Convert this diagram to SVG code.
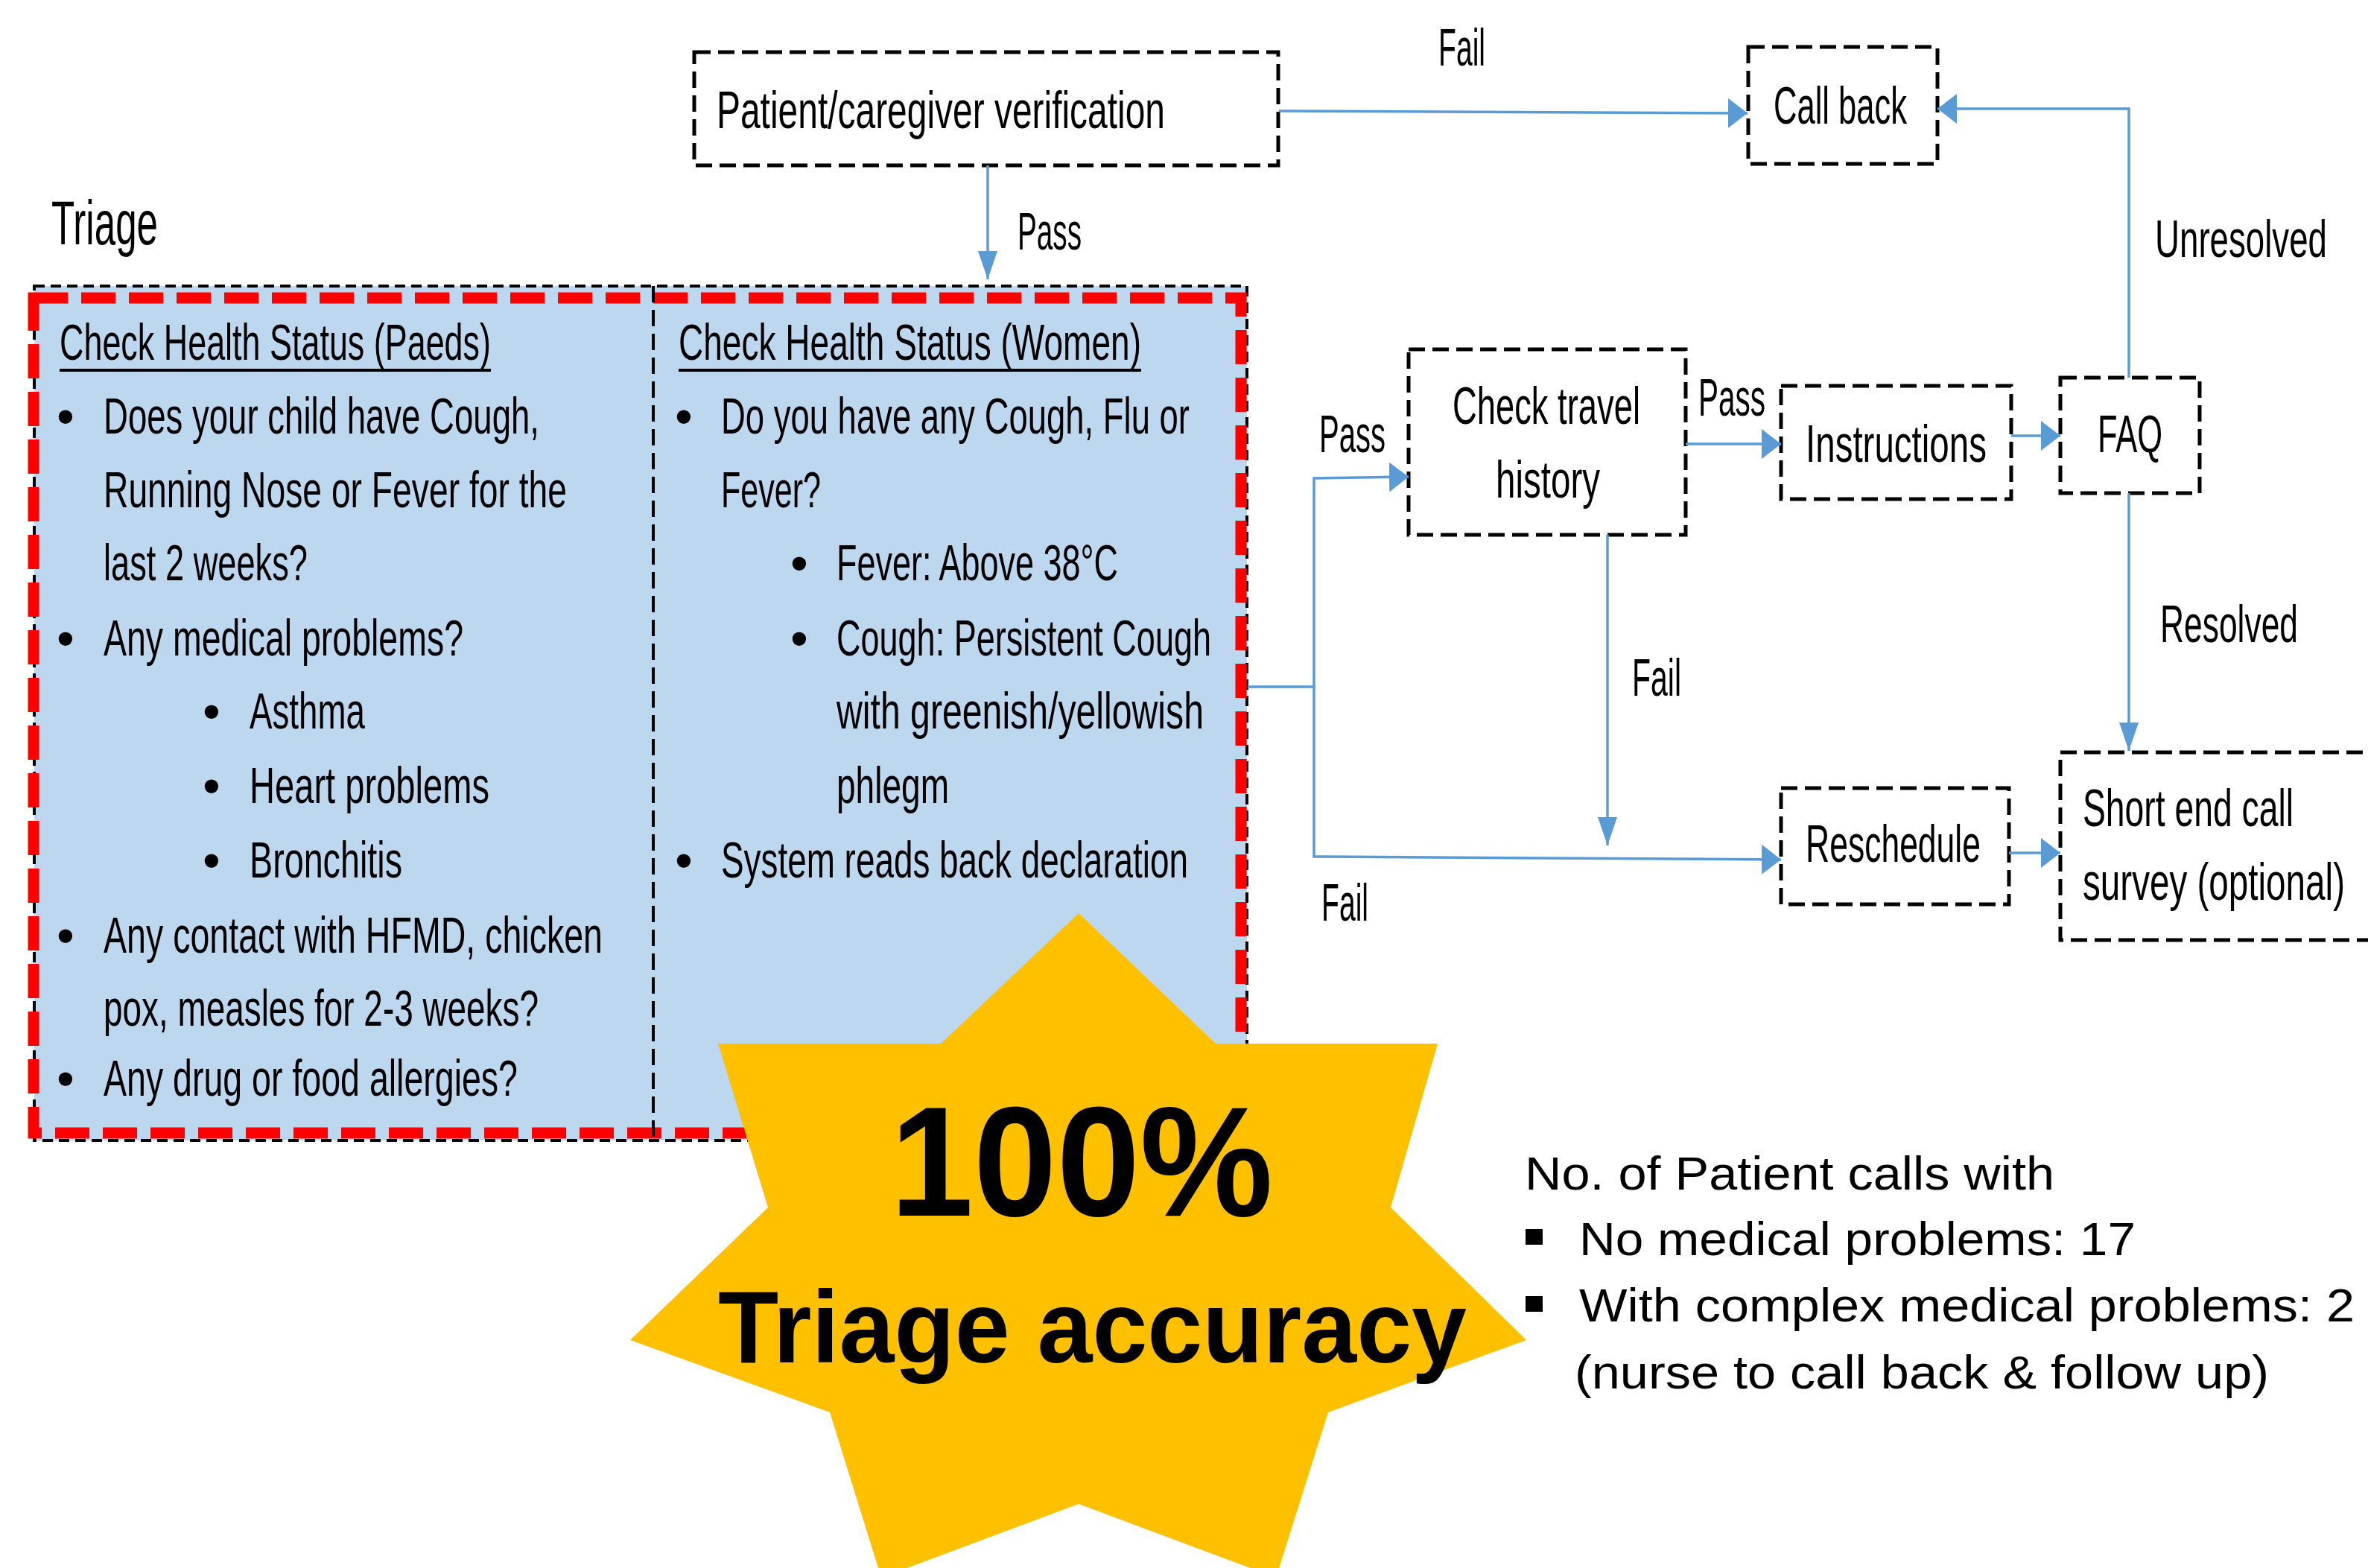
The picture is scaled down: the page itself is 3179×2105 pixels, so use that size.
<svg xmlns="http://www.w3.org/2000/svg" width="3179" height="2105" viewBox="0 0 3179 2105">
<style>
.t{font-family:"Liberation Sans",Arial,sans-serif;fill:#000}
.f{font-size:70px}
.p{font-size:68px}
.s{font-size:63px}
.box{fill:#fff;stroke:#000;stroke-width:5;stroke-dasharray:22 10}
.c{fill:none;stroke:#5B9BD5;stroke-width:3.5}
</style>
<defs>
<marker id="ah" markerUnits="userSpaceOnUse" markerWidth="28" markerHeight="42" refX="26" refY="20" orient="auto"><path d="M0,0 L26,20 L0,40 z" fill="#5B9BD5"/></marker>
<marker id="av" markerUnits="userSpaceOnUse" markerWidth="40" markerHeight="28" refX="38" refY="13" orient="auto"><path d="M0,0 L38,13 L0,26 z" fill="#5B9BD5"/></marker>
</defs>
<rect width="3179" height="2105" fill="#fff"/>

<g id="triage">
<text class="t" x="69" y="328" font-size="84" textLength="143" lengthAdjust="spacingAndGlyphs">Triage</text>
<rect x="46" y="384" width="1628" height="1147" fill="#BDD7EE" stroke="#000" stroke-width="4" stroke-dasharray="14 8"/>
<rect x="45" y="400" width="1621" height="1121" fill="none" stroke="#FF0000" stroke-width="15" stroke-dasharray="46 18"/>
<line x1="877" y1="384" x2="877" y2="1531" stroke="#000" stroke-width="4" stroke-dasharray="22 10"/>
<g id="paeds">
<text class="t p" x="80" y="483" textLength="579" lengthAdjust="spacingAndGlyphs">Check Health Status (Paeds)</text>
<line x1="80" y1="497" x2="659" y2="497" stroke="#000" stroke-width="4"/>
<text class="t p" x="76" y="582">•</text>
<text class="t p" x="139" y="582" textLength="585" lengthAdjust="spacingAndGlyphs">Does your child have Cough,</text>
<text class="t p" x="139" y="681" textLength="622" lengthAdjust="spacingAndGlyphs">Running Nose or Fever for the</text>
<text class="t p" x="139" y="779" textLength="274" lengthAdjust="spacingAndGlyphs">last 2 weeks?</text>
<text class="t p" x="76" y="880">•</text>
<text class="t p" x="139" y="880" textLength="483" lengthAdjust="spacingAndGlyphs">Any medical problems?</text>
<text class="t p" x="272" y="978">•</text>
<text class="t p" x="335" y="978" textLength="155" lengthAdjust="spacingAndGlyphs">Asthma</text>
<text class="t p" x="272" y="1078">•</text>
<text class="t p" x="335" y="1078" textLength="322" lengthAdjust="spacingAndGlyphs">Heart problems</text>
<text class="t p" x="272" y="1178">•</text>
<text class="t p" x="335" y="1178" textLength="205" lengthAdjust="spacingAndGlyphs">Bronchitis</text>
<text class="t p" x="76" y="1279">•</text>
<text class="t p" x="139" y="1279" textLength="670" lengthAdjust="spacingAndGlyphs">Any contact with HFMD, chicken</text>
<text class="t p" x="139" y="1377" textLength="584" lengthAdjust="spacingAndGlyphs">pox, measles for 2-3 weeks?</text>
<text class="t p" x="76" y="1471">•</text>
<text class="t p" x="139" y="1471" textLength="556" lengthAdjust="spacingAndGlyphs">Any drug or food allergies?</text>
</g>
<g id="women">
<text class="t p" x="911" y="483" textLength="621" lengthAdjust="spacingAndGlyphs">Check Health Status (Women)</text>
<line x1="911" y1="497" x2="1532" y2="497" stroke="#000" stroke-width="4"/>
<text class="t p" x="906" y="582">•</text>
<text class="t p" x="968" y="582" textLength="629" lengthAdjust="spacingAndGlyphs">Do you have any Cough, Flu or</text>
<text class="t p" x="968" y="681" textLength="134" lengthAdjust="spacingAndGlyphs">Fever?</text>
<text class="t p" x="1061" y="779">•</text>
<text class="t p" x="1123" y="779" textLength="378" lengthAdjust="spacingAndGlyphs">Fever: Above 38°C</text>
<text class="t p" x="1061" y="880">•</text>
<text class="t p" x="1123" y="880" textLength="503" lengthAdjust="spacingAndGlyphs">Cough: Persistent Cough</text>
<text class="t p" x="1123" y="978" textLength="493" lengthAdjust="spacingAndGlyphs">with greenish/yellowish</text>
<text class="t p" x="1123" y="1078" textLength="151" lengthAdjust="spacingAndGlyphs">phlegm</text>
<text class="t p" x="906" y="1178">•</text>
<text class="t p" x="968" y="1178" textLength="627" lengthAdjust="spacingAndGlyphs">System reads back declaration</text>
</g>
</g>

<g id="verification">
<rect class="box" x="932" y="70" width="784" height="152"/>
<text class="t f" x="962" y="172" textLength="602" lengthAdjust="spacingAndGlyphs">Patient/caregiver verification</text>
</g>
<g id="callback">
<rect class="box" x="2347" y="63" width="254" height="157"/>
<text class="t f" x="2381" y="166" textLength="179" lengthAdjust="spacingAndGlyphs">Call back</text>
</g>
<g id="checktravel">
<rect class="box" x="1891" y="469" width="372" height="249"/>
<text class="t f" x="1950" y="569" textLength="252" lengthAdjust="spacingAndGlyphs">Check travel</text>
<text class="t f" x="2008" y="668" textLength="140" lengthAdjust="spacingAndGlyphs">history</text>
</g>
<g id="instructions">
<rect class="box" x="2391" y="518" width="309" height="152"/>
<text class="t f" x="2424" y="620" textLength="243" lengthAdjust="spacingAndGlyphs">Instructions</text>
</g>
<g id="faq">
<rect class="box" x="2766" y="507" width="187" height="155"/>
<text class="t f" x="2816" y="607" textLength="87" lengthAdjust="spacingAndGlyphs">FAQ</text>
</g>
<g id="reschedule">
<rect class="box" x="2391" y="1058" width="306" height="156"/>
<text class="t f" x="2424" y="1157" textLength="235" lengthAdjust="spacingAndGlyphs">Reschedule</text>
</g>
<g id="survey">
<rect class="box" x="2766" y="1010" width="500" height="252"/>
<text class="t f" x="2796" y="1109" textLength="283" lengthAdjust="spacingAndGlyphs">Short end call</text>
<text class="t f" x="2796" y="1208" textLength="352" lengthAdjust="spacingAndGlyphs">survey (optional)</text>
</g>

<g id="connectors">
<path class="c" d="M1717,149 L2346,152" marker-end="url(#ah)"/>
<path class="c" d="M1326,222 V375" marker-end="url(#av)"/>
<path class="c" d="M2858,507 V146 H2601" marker-end="url(#ah)"/>
<path class="c" d="M1675,922 H1764 V642 L1891,640" marker-end="url(#ah)"/>
<path class="c" d="M1764,922 V1150 L2391,1154" marker-end="url(#ah)"/>
<path class="c" d="M2158,718 V1135" marker-end="url(#av)"/>
<path class="c" d="M2263,596 H2391" marker-end="url(#ah)"/>
<path class="c" d="M2700,585 H2766" marker-end="url(#ah)"/>
<path class="c" d="M2858,662 V1008" marker-end="url(#av)"/>
<path class="c" d="M2697,1145 H2766" marker-end="url(#ah)"/>
</g>

<g id="labels">
<text class="t f" x="1931" y="88" textLength="63" lengthAdjust="spacingAndGlyphs">Fail</text>
<text class="t f" x="1366" y="335" textLength="86" lengthAdjust="spacingAndGlyphs">Pass</text>
<text class="t f" x="2893" y="345" textLength="231" lengthAdjust="spacingAndGlyphs">Unresolved</text>
<text class="t f" x="1771" y="607" textLength="89" lengthAdjust="spacingAndGlyphs">Pass</text>
<text class="t f" x="2280" y="558" textLength="90" lengthAdjust="spacingAndGlyphs">Pass</text>
<text class="t f" x="2900" y="862" textLength="185" lengthAdjust="spacingAndGlyphs">Resolved</text>
<text class="t f" x="2191" y="934" textLength="66" lengthAdjust="spacingAndGlyphs">Fail</text>
<text class="t f" x="1774" y="1236" textLength="63" lengthAdjust="spacingAndGlyphs">Fail</text>
</g>

<g id="star">
<polygon fill="#FFC000" points="1448,1226 1632,1401 1930,1401 1867,1621 2049,1799 1783,1896 1713,2118 1448,2019 1183,2118 1114,1896 846,1799 1031,1621 964,1401 1263,1401"/>
<text class="t" x="1195" y="1632" font-size="210" font-weight="bold" textLength="514" lengthAdjust="spacingAndGlyphs">100%</text>
<text class="t" x="964" y="1829" font-size="138" font-weight="bold" textLength="1005" lengthAdjust="spacingAndGlyphs">Triage accuracy</text>
</g>

<g id="stats">
<text class="t s" x="2047" y="1597" textLength="711" lengthAdjust="spacingAndGlyphs">No. of Patient calls with</text>
<rect x="2048" y="1650" width="23" height="21" fill="#000"/>
<text class="t s" x="2120" y="1685" textLength="747" lengthAdjust="spacingAndGlyphs">No medical problems: 17</text>
<rect x="2048" y="1740" width="23" height="21" fill="#000"/>
<text class="t s" x="2120" y="1774" textLength="1041" lengthAdjust="spacingAndGlyphs">With complex medical problems: 2</text>
<text class="t s" x="2114" y="1864" textLength="932" lengthAdjust="spacingAndGlyphs">(nurse to call back &amp; follow up)</text>
</g>
</svg>
